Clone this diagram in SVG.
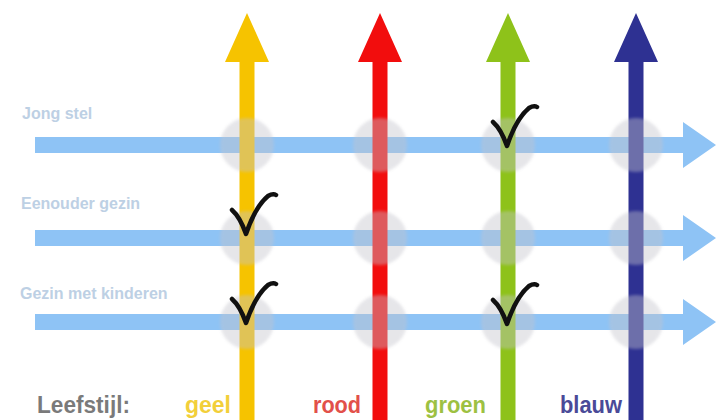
<svg xmlns="http://www.w3.org/2000/svg" width="716" height="420" viewBox="0 0 716 420">
<style>
.rowlbl{font-family:"Liberation Sans",Arial,sans-serif;font-weight:bold;font-size:16px;fill:#bdd0e4}
.leg{font-family:"Liberation Sans",Arial,sans-serif;font-weight:bold;font-size:23px}
.hz{fill:#8ec3f5}
.spot{fill:#c4c4cc;opacity:0.42;filter:url(#soft)}
.check{fill:none;stroke:#111;stroke-width:4.5;stroke-linecap:round;stroke-linejoin:round}
</style>
<defs>
<filter id="soft" x="-20%" y="-20%" width="140%" height="140%"><feGaussianBlur stdDeviation="1.8"/></filter>
<path id="harrow" d="M35,-8 H683 V-23 L716,0 L683,23 V8 H35 Z"/>
<path id="varrow" d="M-7.5,420 V62 H-22 L0,13 L22,62 H7.5 V420 Z"/>
<path id="tick" d="M-15,-27 Q-7,-20 -1,-3 Q8,-30 21,-41 Q26,-44 29,-42"/>
</defs>
<rect width="716" height="420" fill="#ffffff"/>
<g id="connectors">
<g id="rows">
<use href="#harrow" class="hz" y="145"/>
<use href="#harrow" class="hz" y="238"/>
<use href="#harrow" class="hz" y="322"/>
</g>
<g id="columns">
<use href="#varrow" x="247" fill="#f6c300"/>
<use href="#varrow" x="380" fill="#f20d0d"/>
<use href="#varrow" x="508" fill="#8ec21a"/>
<use href="#varrow" x="636" fill="#2e3192"/>
</g>
</g>
<g id="spots">
<circle class="spot" cx="247" cy="145" r="27"/>
<circle class="spot" cx="380" cy="145" r="27"/>
<circle class="spot" cx="508" cy="145" r="27"/>
<circle class="spot" cx="636" cy="145" r="27"/>
<circle class="spot" cx="247" cy="238" r="27"/>
<circle class="spot" cx="380" cy="238" r="27"/>
<circle class="spot" cx="508" cy="238" r="27"/>
<circle class="spot" cx="636" cy="238" r="27"/>
<circle class="spot" cx="247" cy="322" r="27"/>
<circle class="spot" cx="380" cy="322" r="27"/>
<circle class="spot" cx="508" cy="322" r="27"/>
<circle class="spot" cx="636" cy="322" r="27"/>
</g>
<g id="checks">
<use href="#tick" class="check" x="247" y="237"/>
<use href="#tick" class="check" x="247" y="326"/>
<use href="#tick" class="check" x="508" y="149"/>
<use href="#tick" class="check" x="508" y="327"/>
</g>
<g id="row-labels">
<g id="lbl-jong-stel"><text class="rowlbl" x="22" y="119">Jong stel</text></g>
<g id="lbl-eenouder"><text class="rowlbl" x="21" y="209">Eenouder gezin</text></g>
<g id="lbl-gezin"><text class="rowlbl" x="20" y="299">Gezin met kinderen</text></g>
</g>
<g id="legend">
<text class="leg" x="37" y="413" fill="#7a7a7a" textLength="93" lengthAdjust="spacingAndGlyphs">Leefstijl:</text>
<text class="leg" x="185" y="413" fill="#f2cf3a" textLength="46" lengthAdjust="spacingAndGlyphs">geel</text>
<text class="leg" x="313" y="413" fill="#e2504a" textLength="48" lengthAdjust="spacingAndGlyphs">rood</text>
<text class="leg" x="425" y="413" fill="#9dc142" textLength="61" lengthAdjust="spacingAndGlyphs">groen</text>
<text class="leg" x="560" y="413" fill="#4a4a98" textLength="62" lengthAdjust="spacingAndGlyphs">blauw</text>
</g>
</svg>
